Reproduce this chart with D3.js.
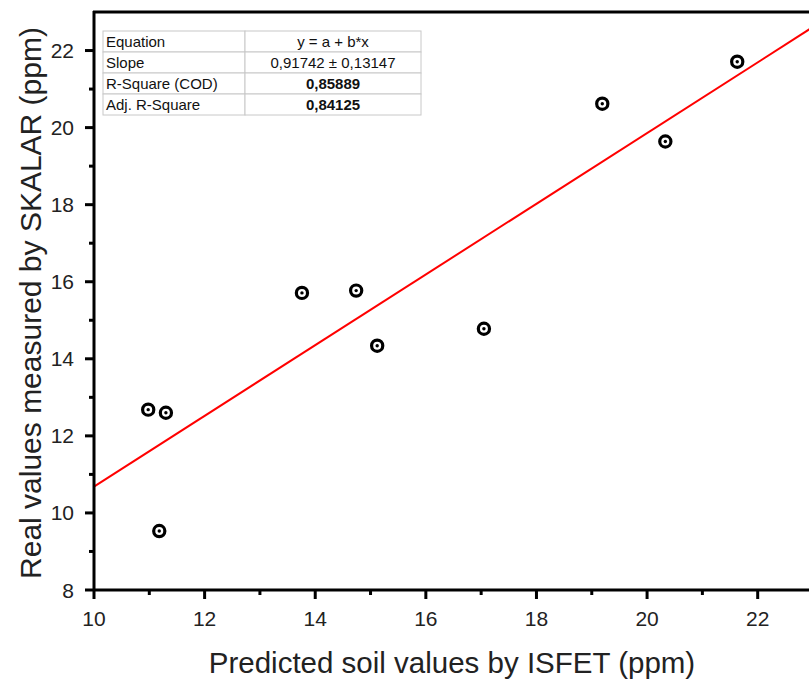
<!DOCTYPE html>
<html><head><meta charset="utf-8">
<script src="https://cdn.jsdelivr.net/npm/d3@7"></script>
<style>body{margin:0;background:#fff;}svg{display:block;font-family:Arial,"Liberation Sans",sans-serif;}</style>
</head><body><svg id="c" width="809" height="682"></svg>
<script>
const xValues = [10.98, 11.30, 11.18, 13.76, 14.74, 15.12, 17.05, 19.19, 20.33, 21.63];
const yValues = [12.68, 12.60, 9.53, 15.71, 15.77, 14.34, 14.78, 20.62, 19.64, 21.71];
const fitIntercept = 1.51;
const fitSlope = 0.91742;
const xTicks = [10, 12, 14, 16, 18, 20, 22];
const yTicks = [8, 10, 12, 14, 16, 18, 20, 22];
const tableRows = [["Equation", "y = a + b*x", false], ["Slope", "0,91742 \u00b1 0,13147", false], ["R-Square (COD)", "0,85889", true], ["Adj. R-Square", "0,84125", true]];

const svg = d3.select("#c");
const x = d3.scaleLinear().domain([10, 23]).range([94, 813]);
const y = d3.scaleLinear().domain([8, 23]).range([590, 12]);

// fit line
const xs = [10, 23];
svg.append("line")
  .attr("x1", x(xs[0])).attr("y1", y(fitIntercept + fitSlope * xs[0]))
  .attr("x2", x(xs[1])).attr("y2", y(fitIntercept + fitSlope * xs[1]))
  .attr("stroke", "#ff0000").attr("stroke-width", 2);

// points
const pts = svg.append("g");
xValues.forEach((v, i) => {
  pts.append("circle").attr("cx", x(v)).attr("cy", y(yValues[i])).attr("r", 5.6)
    .attr("fill", "none").attr("stroke", "#000").attr("stroke-width", 3.2);
  pts.append("circle").attr("cx", x(v)).attr("cy", y(yValues[i])).attr("r", 1.7).attr("fill", "#000");
});

// axes
const minorX = d3.range(11, 23, 2);
const minorY = d3.range(9, 23, 2);
const gx = svg.append("g").attr("transform", "translate(0,590)");
gx.append("line").attr("x1", 94).attr("x2", 809).attr("stroke", "#000").attr("stroke-width", 3);
xTicks.forEach(t => {
  gx.append("line").attr("x1", x(t)).attr("x2", x(t)).attr("y1", 0).attr("y2", 9).attr("stroke", "#000").attr("stroke-width", 3);
  gx.append("text").attr("x", x(t)).attr("y", 36).attr("text-anchor", "middle").attr("font-size", 21).attr("fill", "#222").text(t);
});
minorX.forEach(t => {
  gx.append("line").attr("x1", x(t)).attr("x2", x(t)).attr("y1", 0).attr("y2", 5).attr("stroke", "#000").attr("stroke-width", 3);
});
const gy = svg.append("g").attr("transform", "translate(94,0)");
gy.append("line").attr("y1", 590).attr("y2", 11).attr("stroke", "#000").attr("stroke-width", 3);
yTicks.forEach(t => {
  gy.append("line").attr("y1", y(t)).attr("y2", y(t)).attr("x1", 0).attr("x2", -9).attr("stroke", "#000").attr("stroke-width", 3);
  gy.append("text").attr("x", -20).attr("y", y(t) + 7.5).attr("text-anchor", "end").attr("font-size", 21).attr("fill", "#222").text(t);
});
minorY.forEach(t => {
  gy.append("line").attr("y1", y(t)).attr("y2", y(t)).attr("x1", 0).attr("x2", -5).attr("stroke", "#000").attr("stroke-width", 3);
});
// top border
svg.append("line").attr("x1", 93).attr("x2", 809).attr("y1", 12).attr("y2", 12).attr("stroke", "#000").attr("stroke-width", 3);

// axis titles
svg.append("text").attr("x", 452).attr("y", 673).attr("text-anchor", "middle").attr("font-size", 29.5).attr("fill", "#222")
  .text("Predicted soil values by ISFET (ppm)");
svg.append("text").attr("transform", "translate(41,303) rotate(-90)").attr("text-anchor", "middle").attr("font-size", 30).attr("fill", "#222")
  .text("Real values measured by SKALAR (ppm)");

// table
const tx = 103, ty = 31, rh = 21, c1 = 142, c2 = 176;
const tg = svg.append("g");
tableRows.forEach((r, i) => {
  const yy = ty + i * rh;
  tg.append("rect").attr("x", tx).attr("y", yy).attr("width", c1).attr("height", rh).attr("fill", "#fff").attr("stroke", "#c8c8c8").attr("stroke-width", 1);
  tg.append("rect").attr("x", tx + c1).attr("y", yy).attr("width", c2).attr("height", rh).attr("fill", "#fff").attr("stroke", "#c8c8c8").attr("stroke-width", 1);
  tg.append("text").attr("x", tx + 3).attr("y", yy + 16).attr("font-size", 15).attr("fill", "#111").text(r[0]);
  tg.append("text").attr("x", tx + c1 + c2 / 2).attr("y", yy + 16).attr("text-anchor", "middle").attr("font-size", 15)
    .attr("font-weight", r[2] ? "bold" : "normal").attr("fill", "#111").text(r[1]);
});
</script></body></html>
